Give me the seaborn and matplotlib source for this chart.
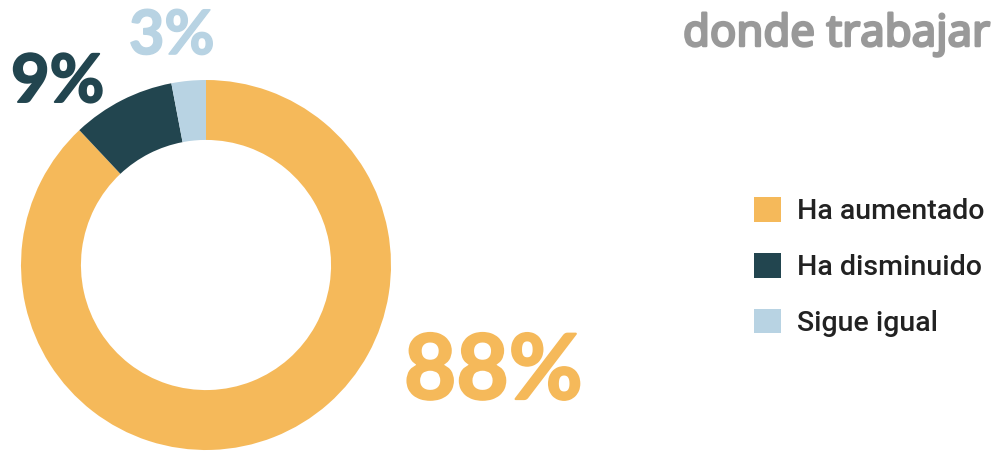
import matplotlib
matplotlib.use("Agg")
import matplotlib.pyplot as plt
import matplotlib.patheffects as pe
import seaborn as sns

categories = ["Ha aumentado", "Ha disminuido", "Sigue igual"]
values = [88, 9, 3]
labels = ["88%", "9%", "3%"]
title = "donde trabajar"

sns.set_theme(style="white")
plt.rcParams['font.family'] = ['Noto Sans', 'DejaVu Sans']
colors = ["#F5B95A", "#22454F", "#B8D3E3"]

W, H = 995, 451
fig = plt.figure(figsize=(W / 100, H / 100), dpi=100)
fig.patch.set_facecolor("white")

ax = fig.add_axes([21 / W, 1 / H, 370 / W, 370 / H])
wedges, _ = ax.pie(values, colors=colors, startangle=90, counterclock=False,
                   radius=1.0, wedgeprops=dict(width=0.324, linewidth=0))
ax.set_xlim(-1, 1)
ax.set_ylim(-1, 1)
ax.set_aspect("equal")
ax.axis("off")

def px(x, y):
    return x / W, 1 - y / H

# percentage labels
lab_pos = [(404, 399, 65, 1.6), (11, 102, 48, 1.4), (129, 54, 44, 1.2)]
for lab, col, (x, y, fs, lw) in zip(labels, colors, lab_pos):
    fx, fy = px(x, y)
    fig.text(fx, fy, lab, color=col, fontsize=fs, fontweight="bold",
             family=["Lato", "DejaVu Sans"], ha="left", va="baseline",
             path_effects=[pe.withStroke(linewidth=lw, foreground=col)])

fx, fy = px(683, 46)
fig.text(fx, fy, title, color="#999999", fontsize=31.5, fontweight="bold",
         family=["Noto Sans", "DejaVu Sans"], ha="left", va="baseline",
         path_effects=[pe.withStroke(linewidth=1.8, foreground="#999999")])

leg = fig.legend(wedges, categories, loc="upper left",
                 bbox_to_anchor=px(754, 197), frameon=False,
                 handlelength=0.95, handleheight=0.95,
                 handletextpad=0.55, labelspacing=0.98, borderpad=0,
                 borderaxespad=0,
                 prop=dict(family=["Roboto", "DejaVu Sans"], weight="medium", size=20.5))
for t in leg.get_texts():
    t.set_color("#222222")

fig.savefig("out.png", dpi=100, facecolor="white")
